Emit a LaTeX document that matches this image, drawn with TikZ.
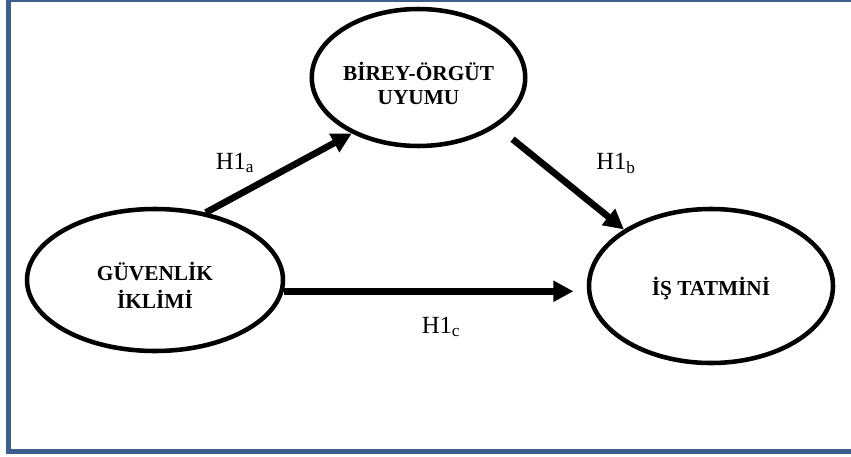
\documentclass[tikz,border=0pt]{standalone}
\usepackage{fontspec}
\setmainfont{Liberation Serif}
\usepackage{tikz}
\usetikzlibrary{arrows.meta}
\usetikzlibrary{shapes.geometric}
\definecolor{frameblue}{RGB}{59,94,140}

\begin{document}
\begin{tikzpicture}[x=0.75pt,y=-0.75pt,>={Triangle[length=15pt,width=15pt]},line join=miter]
        %
        \tikzset{construct/.style={ellipse,draw,line width=3.4pt,inner sep=0pt,align=center,font=\fontsize{16}{16}\selectfont\bfseries},
                 path/.style={->,line width=5pt},
                 hyp/.style={font=\fontsize{18.5}{20}\selectfont}}
        %
        \useasboundingbox (0,0) rectangle (851,457);
        \fill[white] (0,0) rectangle (851,457);
        \draw[frameblue,line width=3.75pt] (8.5,-1) rectangle (880,451);
        %
        \node[construct,minimum width=156.75pt,minimum height=102.75pt] (uyum) at (418.5,77.5) {\rule{0pt}{22pt}B\.IREY-ÖRGÜT\\[2pt]UYUMU};
        \node[construct,minimum width=192pt,minimum height=106.5pt] (iklim) at (155,280) {\rule{0pt}{22pt}GÜVENL\.IK\\[5pt]\.IKL\.IM\.I};
        \node[construct,minimum width=183pt,minimum height=115.5pt] (tatmin) at (711,286) {\rule{0pt}{17pt}\.IŞ TATM\.IN\.I};
        %
        \draw [path] (iklim.53) to (uyum.220);
        \draw [path,shorten <=15pt] (uyum.-32) to (tatmin.147);
        \draw [path,shorten >=10pt] (iklim.-5.4) to (iklim.-5.4 -| tatmin.west);
        %
        \node[hyp] (h1a) at (235,163) {H1\textsubscript{a}};
        \node[hyp] (h1b) at (616,163) {H1\textsubscript{b}};
        \node[hyp] (h1c) at (441,327) {H1\textsubscript{c}};
        %
\end{tikzpicture}
\end{document}
